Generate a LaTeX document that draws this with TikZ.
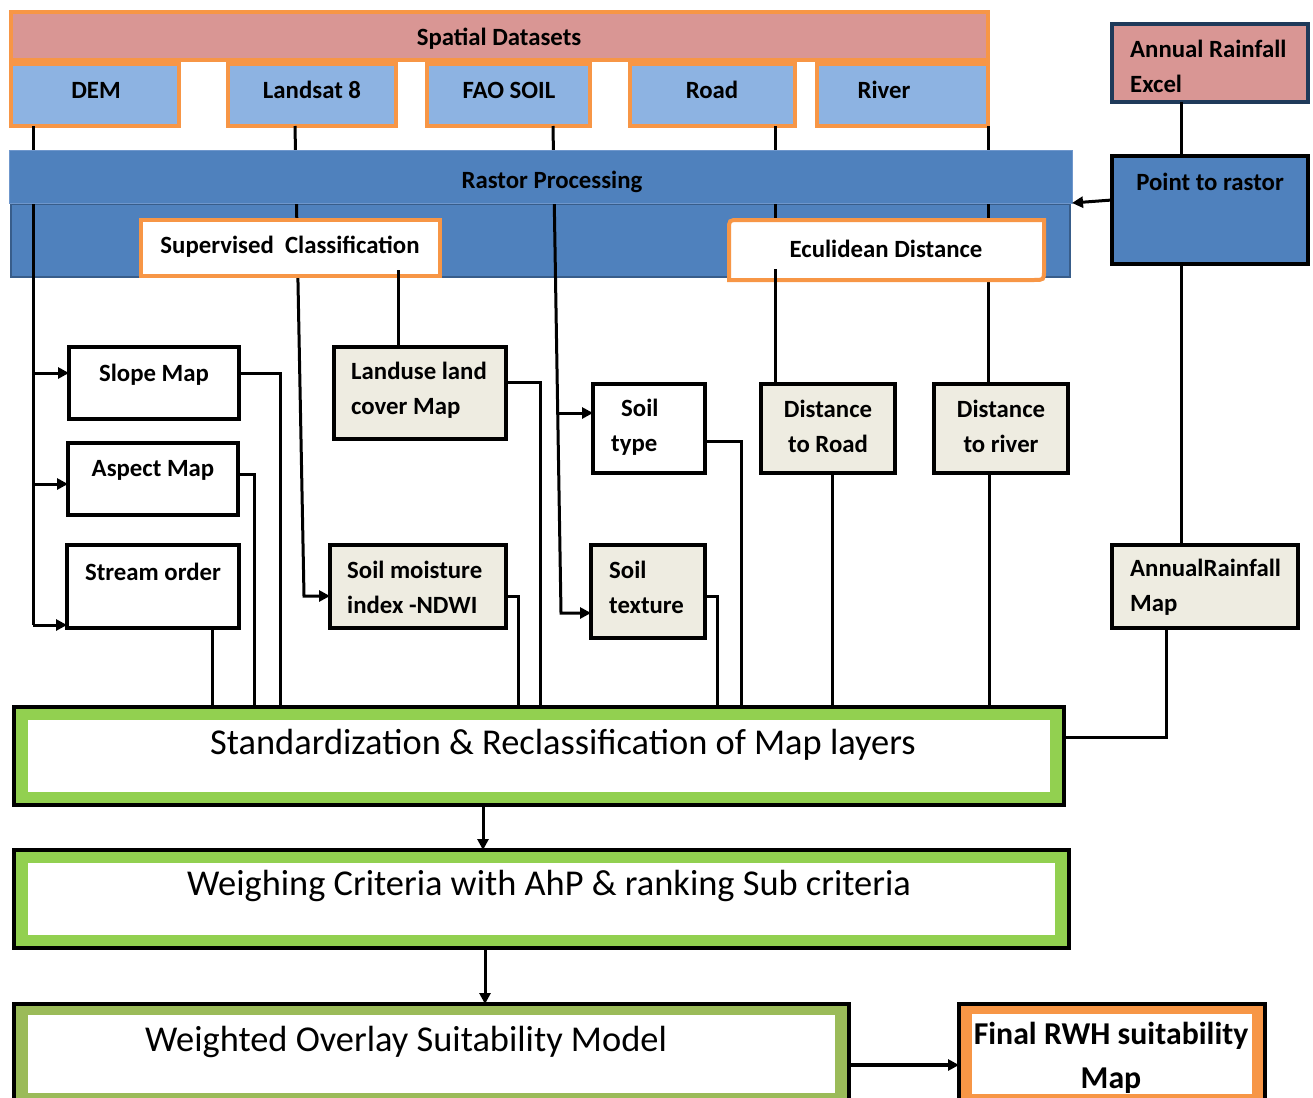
\documentclass[tikz,border=0pt]{standalone}
\usepackage{fontspec}
\setmainfont{Carlito}
\usetikzlibrary{arrows.meta,calc}
\definecolor{pinkf}{HTML}{D99694}
\definecolor{orng}{HTML}{F79646}
\definecolor{lblue}{HTML}{8DB3E2}
\definecolor{rblue}{HTML}{4F81BD}
\definecolor{dblue}{HTML}{385D8A}
\definecolor{tblue}{HTML}{6F97CC}
\definecolor{beige}{HTML}{EEECE1}
\definecolor{grn}{HTML}{92D050}
\definecolor{olive}{HTML}{9BBB59}
\definecolor{navy}{HTML}{1F3A5A}
\begin{document}
\begin{tikzpicture}[x=1pt,y=-1pt,
  box/.style={anchor=north west, inner sep=0pt, outer sep=0pt},
  lab/.style={font=\bfseries\fontsize{24.8}{35}\selectfont, inner sep=0pt},
  lab1/.style={lab, yshift=-2pt},
  big/.style={font=\fontsize{36.4}{40}\selectfont, inner sep=0pt, yshift=-3pt},
  fin/.style={font=\bfseries\fontsize{31.8}{44}\selectfont, inner sep=0pt, yshift=-2pt},
  dsbox/.style={box, draw=orng, line width=4pt, fill=lblue},
  mapw/.style={box, draw=black, line width=4pt, fill=white},
  mapb/.style={box, draw=black, line width=4pt, fill=beige},
  stage/.style={box, draw=black, line width=4.5pt},
  conn/.style={draw=black, line width=3pt},
  arr/.style={conn, -{Triangle[length=11pt,width=11pt]}},
]
\useasboundingbox (0,0) rectangle (1313,1097);

% ---------- spatial datasets ----------
\node[box, draw=orng, line width=4pt, fill=pinkf, minimum width=977pt, minimum height=48pt] (sd) at (11,12) {};
\node[lab1] (t-sd) at (499,37) {Spatial Datasets};
\node[dsbox, minimum width=168pt, minimum height=62pt] (dem) at (11,64) {};
\node[dsbox, minimum width=168pt, minimum height=62pt] (landsat) at (228,64) {};
\node[dsbox, minimum width=163pt, minimum height=62pt] (fao) at (427,64) {};
\node[dsbox, minimum width=165pt, minimum height=62pt] (road) at (630,64) {};
\node[dsbox, minimum width=171pt, minimum height=62pt] (river) at (817,64) {};
\node[lab1] (t-dem) at (96,88) {DEM};
\node[lab1] (t-landsat) at (312,88) {Landsat 8};
\node[lab1] (t-fao) at (509,88) {FAO SOIL};
\node[lab1] (t-road) at (712,88) {Road};
\node[lab1] (t-river) at (884,88) {River};

% ---------- lower band of raster processing ----------
\node[box, draw=dblue, line width=2pt, fill=rblue, minimum width=1059pt, minimum height=73pt] (rlow) at (11,204) {};

% ---------- rainfall ----------
\node[box, draw=navy, line width=4pt, fill=pinkf, minimum width=196pt, minimum height=78pt] (are) at (1112,24) {};
\node[lab, anchor=west, align=left] (t-are) at (1130,66) {Annual Rainfall\\Excel};
\node[box, draw=black, line width=4pt, fill=rblue, minimum width=196pt, minimum height=108pt] (pr) at (1112,156) {};
\node[lab1] (t-pr) at (1210,180) {Point to rastor};
\node[mapb, minimum width=186pt, minimum height=83pt] (arm) at (1112,545) {};
\node[lab, anchor=west, align=left] (t-arm) at (1130,587.5) {AnnualRainfall\\Map};

% ---------- map boxes ----------
\node[mapw, minimum width=170pt, minimum height=72pt] (slope) at (69,347) {};
\node[lab1] (t-slope) at (154,373) {Slope Map};
\node[mapw, minimum width=170pt, minimum height=72pt] (aspect) at (68,443) {};
\node[lab1] (t-aspect) at (153,468) {Aspect Map};
\node[mapw, minimum width=172pt, minimum height=83pt] (stream) at (67,545) {};
\node[lab1] (t-stream) at (153,570) {Stream order};
\node[mapb, minimum width=172pt, minimum height=92pt] (landuse) at (334,347) {};
\node[lab, anchor=west, align=left] (t-landuse) at (351,390.5) {Landuse land\\cover Map};
\node[mapb, minimum width=176pt, minimum height=83pt] (ndwi) at (330,545) {};
\node[lab, anchor=west, align=left] (t-ndwi) at (347,587) {Soil moisture\\index -NDWI};
\node[mapw, minimum width=112pt, minimum height=89pt] (soiltype) at (593,384) {};
\node[lab, anchor=west, align=left] (t-soiltype) at (611,427) {\hspace*{10pt}Soil\\type};
\node[mapb, minimum width=114pt, minimum height=93pt] (texture) at (591,545) {};
\node[lab, anchor=west, align=left] (t-texture) at (609,587.5) {Soil\\texture};
\node[mapb, minimum width=134pt, minimum height=89pt] (droad) at (761,384) {};
\node[lab, align=center] (t-droad) at (828,426) {Distance\\to Road};
\node[mapb, minimum width=134pt, minimum height=89pt] (driver) at (934,384) {};
\node[lab, align=center] (t-driver) at (1001,426) {Distance\\to river};

% ---------- stages ----------
\node[stage, fill=grn, minimum width=1050pt, minimum height=98pt] (std) at (14,707) {};
\fill[white] ([shift={(14,13)}]std.north west) rectangle ([shift={(-14,-13)}]std.south east);
\node[big] (t-std) at (563,742) {Standardization \& Reclassification of Map layers};
\node[stage, fill=grn, minimum width=1055pt, minimum height=98pt] (weigh) at (14,850) {};
\fill[white] ([shift={(14,13)}]weigh.north west) rectangle ([shift={(-14,-13)}]weigh.south east);
\node[big] (t-weigh) at (549,883) {Weighing Criteria with AhP \& ranking Sub criteria};
\node[stage, fill=olive, minimum width=835pt, minimum height=100pt] (overlay) at (14,1004) {};
\fill[white] ([shift={(14,11)}]overlay.north west) rectangle ([shift={(-14,-11)}]overlay.south east);
\node[big] (t-overlay) at (406,1039) {Weighted Overlay Suitability Model};
\node[stage, fill=orng, minimum width=306pt, minimum height=100pt] (final) at (959,1004) {};
\fill[white] ([shift={(13,10)}]final.north west) rectangle ([shift={(-13,-10)}]final.south east);
\node[fin, align=center] (t-final) at (1111,1056) {Final RWH suitability\\Map};

% ---------- connectors (under raster top band) ----------
% DEM
\coordinate (slA) at ([yshift=10pt]slope.west);
\coordinate (asA) at ([yshift=-5pt]aspect.west);
\coordinate (stA) at ([yshift=-38.5pt]stream.west);
\draw[conn] ([xshift=22pt]dem.south west) coordinate (dl) -- (dl |- stA);
\draw[arr] (dl |- slA) -- (slA);
\draw[arr] (dl |- asA) -- (asA);
\draw[arr] (dl |- stA) -- (stA);
\draw[conn] ([yshift=10pt]slope.east) -| ([xshift=266pt]std.north west);
\draw[conn] ([yshift=5pt]aspect.east) -| ([xshift=240pt]std.north west);
\draw[conn] ([xshift=145pt]stream.south west) coordinate (so) -- (so |- std.north);
% Landsat
\coordinate (ndA) at ([yshift=-9.5pt]ndwi.west);
\draw[arr] ([xshift=67pt]landsat.south west) -- ($(ndA)+(-26,0)$) -- (ndA);
\draw[conn] ([yshift=11pt]landuse.east) -| ([xshift=526pt]std.north west);
\draw[conn] ([yshift=-9.5pt]ndwi.east) -| ([xshift=504pt]std.north west);
% FAO
\coordinate (txA) at ([yshift=-21.5pt]texture.west);
\coordinate (tyA) at ([yshift=15.5pt]soiltype.west);
\draw[arr] ([xshift=126pt]fao.south west) -- ($(txA)+(-30,0)$) -- (txA);
\draw[arr] ($(tyA)+(-35,0)$) -- (tyA);
\draw[conn] ([yshift=-12.5pt]soiltype.east) -| ([xshift=727pt]std.north west);
\draw[conn] ([yshift=-4.5pt]texture.east) -| ([xshift=703pt]std.north west);
% Road, River
\draw[conn] ([xshift=145pt]road.south west) coordinate (rl) -- (rl |- droad.north);
\draw[conn] ([xshift=171pt]river.south west) coordinate (vl) -- (vl |- driver.north);
\draw[conn] ([xshift=71pt]droad.south west) coordinate (dro) -- (dro |- std.north);
\draw[conn] ([xshift=55pt]driver.south west) coordinate (dri) -- (dri |- std.north);
% rainfall
\draw[conn] ([xshift=69pt]are.south west) coordinate (al) -- (al |- pr.north);
\draw[conn] ([xshift=69pt]pr.south west) coordinate (pl) -- (pl |- arm.north);
\draw[conn] ([xshift=54pt]arm.south west) |- ([yshift=19pt]std.east);
% stages
\draw[arr] ([xshift=469pt]std.south west) coordinate (s1) -- (s1 |- weigh.north);
\draw[arr] ([xshift=471pt]weigh.south west) coordinate (s2) -- (s2 |- overlay.north);
\draw[arr, line width=4pt] ([yshift=-11pt]overlay.east) -- ([yshift=-11pt]overlay.east -| final.west);

% ---------- raster processing top band and tool boxes ----------
\node[box, draw=tblue, line width=1pt, fill=rblue, minimum width=1063pt, minimum height=53pt] (rtop) at (9,150) {};
\node[lab1] (t-rtop) at (552,180) {Rastor Processing};
\node[box, draw=orng, line width=4pt, fill=white, minimum width=299pt, minimum height=56pt] (sup) at (141,220) {};
\node[lab1] (t-sup) at (290,245) {Supervised\ \ Classification};
\filldraw[fill=white, draw=orng, line width=4pt] (1044,220) -- (1044,270) .. controls (1044,280) .. (1034,280) -- (729,280) -- (729,230) .. controls (729,220) .. (739,220) -- cycle;
\node[lab1] (eucl) at (886,247) {Eculidean Distance};
\draw[conn] ([xshift=64pt]landuse.north west) coordinate (lx) -- ($(lx |- eucl)+(0,21)$);
\draw[conn] ($(rl |- eucl)+(0,20)$) -- (rl |- droad.north);
\draw[arr] ([yshift=10pt]pr.west) -- (rtop.south east);
\end{tikzpicture}
\end{document}
